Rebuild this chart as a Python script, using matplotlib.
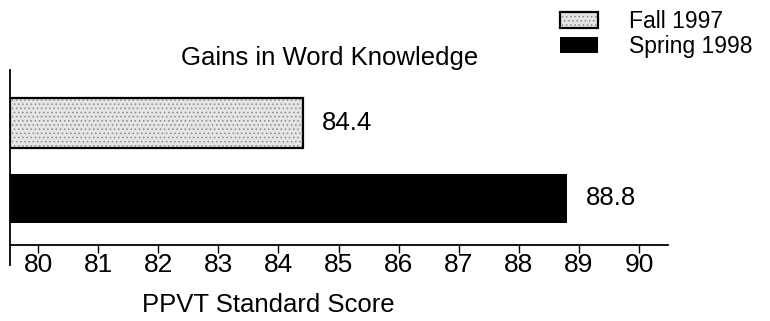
"""
Gains in Word Knowledge: PPVT standard score, Fall 1997 vs Spring 1998.

Output: out.png (770x321)
"""

import matplotlib
matplotlib.use("Agg")
import matplotlib.pyplot as plt
from matplotlib.lines import Line2D

# Data
seasons = ["Fall 1997", "Spring 1998"]
scores = [84.4, 88.8]
value_labels = ["84.4", "88.8"]
tick_values = [80, 81, 82, 83, 84, 85, 86, 87, 88, 89, 90]

plt.rcParams["font.family"] = ["Liberation Sans", "DejaVu Sans"]
plt.rcParams["hatch.linewidth"] = 0.6

W, H = 770, 321
fig = plt.figure(figsize=(W / 100, H / 100), dpi=100)

# axes box in pixels: x 10..668, y 70..245
ax = fig.add_axes([10 / W, 1 - 245 / H, 658 / W, 175 / H])

x_left = 79.534
y_pos = [1, 0]  # Fall on top, Spring below
bar_h = 0.66

# Fall bar: stippled light grey fill, then black outline on top
fall_fill = ax.barh(y_pos[0], scores[0] - x_left, left=x_left, height=bar_h,
                    color="#e4e4e4", hatch="....", edgecolor="#8a8a8a",
                    linewidth=0, zorder=2)
fall_edge = ax.barh(y_pos[0], scores[0] - x_left, left=x_left, height=bar_h,
                    facecolor="none", edgecolor="black", linewidth=1.6,
                    zorder=3)
spring = ax.barh(y_pos[1], scores[1] - x_left, left=x_left, height=bar_h,
                 color="black", edgecolor="black", linewidth=0, zorder=2)

# value labels to the right of each bar
for y, s, lab in zip(y_pos, scores, value_labels):
    ax.annotate(lab, xy=(s, y), xytext=(19, 0), textcoords="offset pixels",
                ha="left", va="center", fontsize=18.5)

ax.set_xlim(x_left, 90.48)
ax.set_ylim(-0.616, 1.70)
ax.set_xticks(tick_values)
ax.set_xticklabels([str(t) for t in tick_values])
ax.set_yticks([])
ax.tick_params(axis="x", direction="out", length=6, width=1.0, pad=0,
               labelsize=19)

for side in ["top", "right", "left"]:
    ax.spines[side].set_visible(False)
ax.spines["bottom"].set_linewidth(1.3)

# y axis line runs a little below the x axis
ax.add_line(Line2D([x_left, x_left], [-0.616 - 20 / 75.5, 1.70],
                   color="black", linewidth=1.3, clip_on=False))

# title and axis label placed as in the original
fig.text(329.5 / W, 1 - 65 / H, "Gains in Word Knowledge", ha="center",
         va="baseline", fontsize=18.5)
fig.text(142 / W, 1 - 312 / H, "PPVT Standard Score", ha="left",
         va="baseline", fontsize=18.5)

ax.legend(handles=[(fall_fill[0], fall_edge[0]), spring[0]], labels=seasons,
          loc="upper left", bbox_to_anchor=(560 / W, 1 - 10 / H),
          bbox_transform=fig.transFigure, frameon=False, fontsize=16.5,
          handlelength=1.65, handleheight=0.7, handletextpad=1.35,
          labelspacing=0.07, borderpad=0, borderaxespad=0)

fig.savefig("out.png", dpi=100)
plt.close(fig)
